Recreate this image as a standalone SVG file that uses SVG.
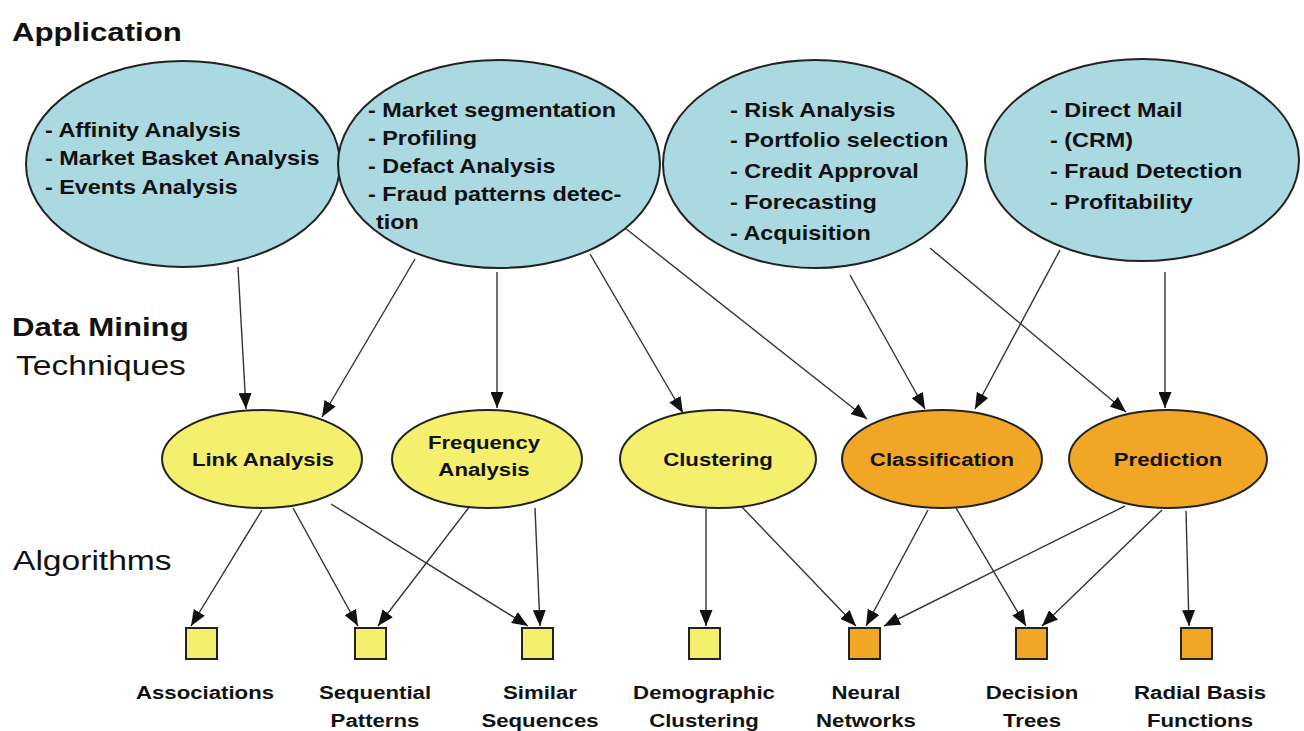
<svg xmlns="http://www.w3.org/2000/svg" width="1304" height="731" viewBox="0 0 1304 731">
  <defs>
    <marker id="arrow" viewBox="0 0 16 13" refX="16" refY="6.5" markerWidth="16" markerHeight="13" markerUnits="userSpaceOnUse" orient="auto">
      <path d="M0,0 L16,6.5 L0,13 z" fill="#111"/>
    </marker>
    <style>
      text { font-family: "Liberation Sans", Arial, sans-serif; fill: #111; }
      .head { font-size: 26px; font-weight: bold; }
      .sub { font-size: 28px; }
      .app { font-size: 19.5px; font-weight: bold; }
      .tech { font-size: 18.5px; font-weight: bold; text-anchor: middle; }
      .alg { font-size: 18.5px; font-weight: bold; text-anchor: middle; }
      .blue { fill: #aad9e2; stroke: #222; stroke-width: 2; }
      .yellow { fill: #f4ef6c; stroke: #222; stroke-width: 2; }
      .orange { fill: #f2a626; stroke: #222; stroke-width: 2; }
      .edge { fill: none; stroke: #333; stroke-width: 1.4; marker-end: url(#arrow); }
    </style>
  </defs>

  <rect width="1304" height="731" fill="#ffffff"/>

  <!-- level captions -->
  <g id="captions">
    <text class="head" transform="translate(12 41) scale(1.2 1)">Application</text>
    <text class="head" transform="translate(12 336) scale(1.2 1)">Data Mining</text>
    <text class="sub" transform="translate(16 375) scale(1.2 1)">Techniques</text>
    <text class="sub" transform="translate(13 570) scale(1.2 1)">Algorithms</text>
  </g>

  <!-- connectors -->
  <g id="connectors">
    <line class="edge" x1="238" y1="267" x2="246" y2="409"/>
    <line class="edge" x1="415" y1="259" x2="322" y2="417"/>
    <line class="edge" x1="497" y1="272" x2="497" y2="408"/>
    <line class="edge" x1="590" y1="254" x2="683" y2="413"/>
    <line class="edge" x1="625" y1="228" x2="867" y2="419"/>
    <line class="edge" x1="850" y1="275" x2="925" y2="409"/>
    <line class="edge" x1="1060" y1="250" x2="975" y2="409"/>
    <line class="edge" x1="930" y1="248" x2="1126" y2="412"/>
    <line class="edge" x1="1165" y1="272" x2="1165" y2="408"/>

    <line class="edge" x1="262" y1="510" x2="191" y2="626"/>
    <line class="edge" x1="293" y1="508" x2="358" y2="626"/>
    <line class="edge" x1="331" y1="504" x2="528" y2="626"/>
    <line class="edge" x1="470" y1="506" x2="378" y2="626"/>
    <line class="edge" x1="535" y1="508" x2="540" y2="626"/>
    <line class="edge" x1="706" y1="509" x2="706" y2="626"/>
    <line class="edge" x1="740" y1="505" x2="856" y2="626"/>
    <line class="edge" x1="928" y1="510" x2="866" y2="626"/>
    <line class="edge" x1="956" y1="508" x2="1026" y2="626"/>
    <line class="edge" x1="1125" y1="506" x2="884" y2="626"/>
    <line class="edge" x1="1162" y1="510" x2="1042" y2="626"/>
    <line class="edge" x1="1186" y1="511" x2="1189" y2="626"/>
  </g>

  <!-- application areas -->
  <g id="app-associative">
    <ellipse class="blue" cx="183" cy="164" rx="157" ry="103"/>
    <text class="app" transform="translate(45 137) scale(1.2 1)">- Affinity Analysis</text>
    <text class="app" transform="translate(45 165) scale(1.2 1)">- Market Basket Analysis</text>
    <text class="app" transform="translate(45 194) scale(1.2 1)">- Events Analysis</text>
  </g>
  <g id="app-segmentation">
    <ellipse class="blue" cx="499" cy="164" rx="161" ry="104"/>
    <text class="app" transform="translate(368 117) scale(1.2 1)">- Market segmentation</text>
    <text class="app" transform="translate(368 145) scale(1.2 1)">- Profiling</text>
    <text class="app" transform="translate(368 173) scale(1.2 1)">- Defact Analysis</text>
    <text class="app" transform="translate(368 201) scale(1.2 1)">- Fraud patterns detec-</text>
    <text class="app" transform="translate(376 229) scale(1.2 1)">tion</text>
  </g>
  <g id="app-risk">
    <ellipse class="blue" cx="815" cy="164" rx="152" ry="104"/>
    <text class="app" transform="translate(730 117) scale(1.2 1)">- Risk Analysis</text>
    <text class="app" transform="translate(730 147) scale(1.2 1)">- Portfolio selection</text>
    <text class="app" transform="translate(730 178) scale(1.2 1)">- Credit Approval</text>
    <text class="app" transform="translate(730 209) scale(1.2 1)">- Forecasting</text>
    <text class="app" transform="translate(730 240) scale(1.2 1)">- Acquisition</text>
  </g>
  <g id="app-marketing">
    <ellipse class="blue" cx="1142" cy="160" rx="157" ry="101"/>
    <text class="app" transform="translate(1050 117) scale(1.2 1)">- Direct Mail</text>
    <text class="app" transform="translate(1050 147) scale(1.2 1)">- (CRM)</text>
    <text class="app" transform="translate(1050 178) scale(1.2 1)">- Fraud Detection</text>
    <text class="app" transform="translate(1050 209) scale(1.2 1)">- Profitability</text>
  </g>

  <!-- techniques -->
  <g id="tech-link">
    <ellipse class="yellow" cx="262" cy="459" rx="100" ry="49"/>
    <text class="tech" transform="translate(263 466) scale(1.2 1)">Link Analysis</text>
  </g>
  <g id="tech-frequency">
    <ellipse class="yellow" cx="487" cy="459" rx="95" ry="49"/>
    <text class="tech" transform="translate(484 449) scale(1.2 1)">Frequency</text>
    <text class="tech" transform="translate(484 476) scale(1.2 1)">Analysis</text>
  </g>
  <g id="tech-clustering">
    <ellipse class="yellow" cx="718" cy="459" rx="98" ry="49"/>
    <text class="tech" transform="translate(718 466) scale(1.2 1)">Clustering</text>
  </g>
  <g id="tech-classification">
    <ellipse class="orange" cx="942" cy="459" rx="100" ry="49"/>
    <text class="tech" transform="translate(942 466) scale(1.2 1)">Classification</text>
  </g>
  <g id="tech-prediction">
    <ellipse class="orange" cx="1168" cy="459" rx="99" ry="49"/>
    <text class="tech" transform="translate(1168 466) scale(1.2 1)">Prediction</text>
  </g>

  <!-- algorithms -->
  <g id="alg-associations">
    <rect class="yellow" x="186" y="628" width="31" height="31"/>
    <text class="alg" transform="translate(205 699) scale(1.2 1)">Associations</text>
  </g>
  <g id="alg-sequential">
    <rect class="yellow" x="355" y="628" width="31" height="31"/>
    <text class="alg" transform="translate(375 699) scale(1.2 1)">Sequential</text>
    <text class="alg" transform="translate(375 727) scale(1.2 1)">Patterns</text>
  </g>
  <g id="alg-similar">
    <rect class="yellow" x="522" y="628" width="31" height="31"/>
    <text class="alg" transform="translate(540 699) scale(1.2 1)">Similar</text>
    <text class="alg" transform="translate(540 727) scale(1.2 1)">Sequences</text>
  </g>
  <g id="alg-demographic">
    <rect class="yellow" x="689" y="628" width="31" height="31"/>
    <text class="alg" transform="translate(704 699) scale(1.2 1)">Demographic</text>
    <text class="alg" transform="translate(704 727) scale(1.2 1)">Clustering</text>
  </g>
  <g id="alg-neural">
    <rect class="orange" x="849" y="628" width="31" height="31"/>
    <text class="alg" transform="translate(866 699) scale(1.2 1)">Neural</text>
    <text class="alg" transform="translate(866 727) scale(1.2 1)">Networks</text>
  </g>
  <g id="alg-decision">
    <rect class="orange" x="1016" y="628" width="31" height="31"/>
    <text class="alg" transform="translate(1032 699) scale(1.2 1)">Decision</text>
    <text class="alg" transform="translate(1032 727) scale(1.2 1)">Trees</text>
  </g>
  <g id="alg-radial">
    <rect class="orange" x="1181" y="628" width="31" height="31"/>
    <text class="alg" transform="translate(1200 699) scale(1.2 1)">Radial Basis</text>
    <text class="alg" transform="translate(1200 727) scale(1.2 1)">Functions</text>
  </g>
</svg>
